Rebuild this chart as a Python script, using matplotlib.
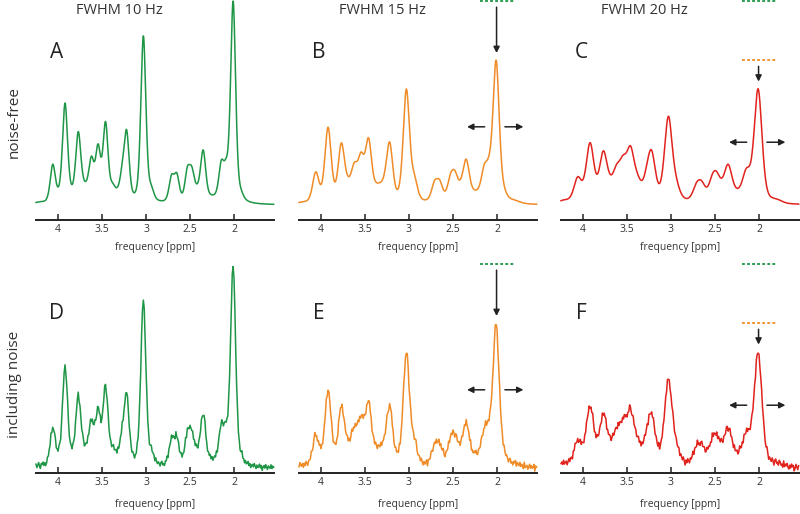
import numpy as np
import matplotlib
matplotlib.use("Agg")
import matplotlib.pyplot as plt

plt.rcParams['font.family'] = ['Open Sans', 'DejaVu Sans']

# ---------------- data ----------------
linewidths_hz = [10, 15, 20]
titles = ["FWHM 10 Hz", "FWHM 15 Hz", "FWHM 20 Hz"]
row_labels = ["noise-free", "including noise"]
panel_letters = [["A", "B", "C"], ["D", "E", "F"]]
line_colors = ["#1e9646", "#f08c28", "#e1231e"]

# resonance positions (ppm) and the spectrum height read at each of them
peak_ppm = [4.06, 3.92, 3.77, 3.62, 3.545, 3.46, 3.38, 3.27, 3.22, 3.03, 2.94,
            2.71, 2.65, 2.53, 2.48, 2.35, 2.145, 2.09, 2.01, 1.92]
peak_height_10hz = [20, 50, 36, 24, 30, 41, 11, 21, 37, 83, 10,
                    15, 16, 19, 19, 27, 22, 23, 100, 8]
peak_height_15hz = [16.3, 38.4, 30.6, 21, 26, 33, 11.5, 18, 31, 57, 15.5,
                    12, 12.7, 15.5, 17, 22.5, 20, 24.5, 71, 10]
peak_height_20hz = [14.4, 32, 27.3, 20, 24.5, 29, 15.5, 21, 27.3, 44, 14,
                    11, 12.3, 15.5, 16.3, 20, 18, 22, 57, 11]
# spectrum level read in the valleys between resonances
valley_ppm = [4.22, 3.99, 3.85, 3.70, 3.33, 3.12, 2.85, 2.60, 2.41, 2.25, 1.80, 1.60]
valley_height_10hz = [1.5, 9.5, 10.5, 12, 8.5, 5, 2, 5.5, 11, 5, 1, 0]
valley_height_15hz = [1.5, 11, 10.6, 14.7, 11, 7.4, 2.8, 6, 13, 7.4, 2.5, 0]
valley_height_20hz = [2.5, 12, 12.6, 15.5, 12, 8.6, 3.7, 8, 13.9, 8.2, 3, 0.5]

xticks = [4, 3.5, 3, 2.5, 2]
xtick_labels = ["4", "3.5", "3", "2.5", "2"]

noise = [1, -2, 0, 2, -1, -3, 1, 0, 2, -1, 1, -2, -1, 2, 0, 1, -1, 3, -2, 0, -1, 1, 2, -2, 0, -1, 2, 1, -3, 0,
         2, -1, 0, 1, -2, 1, 3, -1, -2, 0, 1, -1, 2, 0, -2, 1, -1, 0, 2, -3, 1, 0, -1, 2, 1, -2, 0, 1, -1, 2,
         -1, 0, 2, -2, 1, -1, 0, 3, -1, -2, 1, 0, -1, 2, -2, 0, 1, -1, 2, 0, -3, 1, 2, -1, 0, 1, -2, 0, 2, -1,
         0, 1, -2, 2, -1, 0, 1, -1, 3, -2, 0, -1, 1, 0, 2, -1, -2, 1, 0, -1, 2, 1, -2, 0, -1, 3, -1, 0, 1, -2,
         2, 0, -1, 1, -2, 0, 2, -1, 1, -3, 0, 2, -1, 0, 1, -2, 2, 0, -1, 1, 0, -2, 1, 2, -1, 0, -2, 1, 0, 2,
         -2, 1, 0, -1, 2, -1, 1, 0, -2, 3, -1, 0, 1, -2, 0, 2, -1, 1, -1, 0, 2, -3, 1, 0, -1, 2, 0, -1, 1, -2,
         1, -1, 2, 0, -2, 1, 0, -1, 2, -1, -2, 1, 3, -1, 0, -2, 1, 0, 2, -1, 1, -2, 0, 1, -1, 2, -2, 0, 1, 0,
         -1, 2, 0, -2, 1, 1, -1, 0, -3, 2, 0, 1, -1, 2, -2, 0, 1, -1, 0, 2, -1, 1, -2, 0, 3, -1, 0, -2, 1, -1,
         0, 2, -1, 1, -2, 0, 1, -1, 2, 0, -2, 1, -1, 0, 2, -1, 1, -3, 0, 1, -1, 2, 0, -2, 1, 0, -1, 2, -1, 1, 0]
noise_scale = [0.6, 0.65, 0.65]

peak_heights = [peak_height_10hz, peak_height_15hz, peak_height_20hz]
valley_heights = [valley_height_10hz, valley_height_15hz, valley_height_20hz]

# ---------------- drawing model ----------------
XMIN, XMAX = 4.25, 1.55
LINE_W = [0.068, 0.085, 0.105]   # drawn line width (ppm) per column
BROAD_W = 0.14
ETA = 0.4


def lineshape(x, c, w, eta=ETA):
    d = (np.asarray(x, float) - c) / (w / 2.0)
    return eta / (1 + d ** 2) + (1 - eta) * np.exp(-np.log(2) * d ** 2)


def fit_amplitudes(col):
    """non-negative amplitudes so that the curve passes through the read heights"""
    w = LINE_W[col]
    anchors = np.array(peak_ppm + valley_ppm)
    targets = np.array(list(peak_heights[col]) + list(valley_heights[col]), float)
    cols = [lineshape(anchors, c, w) for c in peak_ppm] + \
           [lineshape(anchors, c, BROAD_W, eta=0.0) for c in valley_ppm]
    M = np.array(cols).T
    L = np.linalg.norm(M, 2) ** 2
    amp = np.zeros(M.shape[1]); yv = amp.copy(); t = 1.0
    for _ in range(20000):
        new = np.maximum(0, yv - M.T @ (M @ yv - targets) / L)
        tn = (1 + np.sqrt(1 + 4 * t * t)) / 2
        yv = new + (t - 1) / tn * (new - amp)
        amp, t = new, tn
    return amp


amps = [fit_amplitudes(c) for c in range(3)]
n_pk = len(peak_ppm)


def spectrum(x, col):
    w = LINE_W[col]
    amp = amps[col]
    y = np.zeros_like(np.asarray(x, float))
    for a, c in zip(amp[:n_pk], peak_ppm):
        y += a * lineshape(x, c, w)
    for a, c in zip(amp[n_pk:], valley_ppm):
        y += a * lineshape(x, c, BROAD_W, eta=0.0)
    return y


x_fine = np.linspace(XMIN, XMAX, 1400)
x_noisy = np.round(np.arange(XMIN, XMAX - 0.005, -0.01), 3)[:len(noise)]
noise_arr = np.array(noise, float)[:len(x_noisy)]
noise_variants = [noise_arr, np.roll(noise_arr, 97), noise_arr[::-1]]

# ---------------- figure ----------------
W, H = 800, 514
fig = plt.figure(figsize=(W / 100, H / 100), dpi=100)
lefts = [36, 299, 561]
axw = 237.6
rows = [(0.0, 219.5, (-7.1, 100.5)), (253.0, 473.0, (-2.45, 105.4))]
label_pads = [5, 8]
ink = "#222222"

peak_levels = [spectrum(np.array([2.01]), c)[0] for c in range(3)]
arrow_kw = dict(arrowstyle="-|>", color=ink, lw=1.1, mutation_scale=9, shrinkA=0, shrinkB=0)

for r, (top_px, bot_px, ylim) in enumerate(rows):
    for c in range(3):
        ax = fig.add_axes([lefts[c] / W, 1 - bot_px / H, axw / W, (bot_px - top_px) / H])
        if r == 0:
            xs = x_fine
            ys = spectrum(xs, c)
        else:
            xs = x_noisy
            ys = spectrum(xs, c) + noise_scale[c] * noise_variants[c]
        ax.plot(xs, ys, color=line_colors[c], lw=1.1, clip_on=False, zorder=3)
        ax.set_xlim(XMIN, XMAX)
        ax.set_ylim(*ylim)
        for s in ["top", "left", "right"]:
            ax.spines[s].set_visible(False)
        ax.spines["bottom"].set_color(ink)
        ax.spines["bottom"].set_linewidth(1.4)
        ax.set_yticks([])
        ax.set_xticks(xticks)
        ax.set_xticklabels(xtick_labels)
        ax.tick_params(axis="x", direction="in", length=4, width=1.1, color=ink,
                       labelsize=7.5, pad=3, labelcolor="#333333")
        ax.set_xlabel("frequency [ppm]", fontsize=7.4, color="#333333", labelpad=label_pads[r])
        ax.patch.set_alpha(0)

        ax.text(4.02, 0.76 if r == 0 else 0.727, panel_letters[r][c], transform=ax.get_xaxis_transform(),
                fontsize=15, color=ink, ha="center", va="center")
        if r == 0:
            ax.text(3.3, 0.95, titles[c], transform=ax.get_xaxis_transform(),
                    fontsize=10.5, color="#333333", ha="center", va="center")

        # peak levels of the narrower linewidths and arrows
        if c > 0:
            for k in range(c):
                ax.plot([2.19, 1.81], [peak_levels[k], peak_levels[k]], color=line_colors[k],
                        lw=1.3, ls=(0, (1.6, 1.2)), clip_on=False, zorder=4)
            ref = peak_levels[c - 1]
            pk = peak_levels[c]
            ax.annotate("", xy=(2.005, pk + 3.5), xytext=(2.005, ref - 3), arrowprops=arrow_kw)
            yh = 0.54 * pk
            ax.annotate("", xy=(2.34, yh), xytext=(2.14, yh), arrowprops=arrow_kw)
            ax.annotate("", xy=(1.70, yh), xytext=(1.91, yh), arrowprops=arrow_kw)

fig.text(14 / W, 1 - 122 / H, row_labels[0], rotation=90, fontsize=11, color="#333333",
         ha="center", va="center")
fig.text(14 / W, 1 - 384 / H, row_labels[1], rotation=90, fontsize=11, color="#333333",
         ha="center", va="center")

fig.savefig("out.png", dpi=100)
